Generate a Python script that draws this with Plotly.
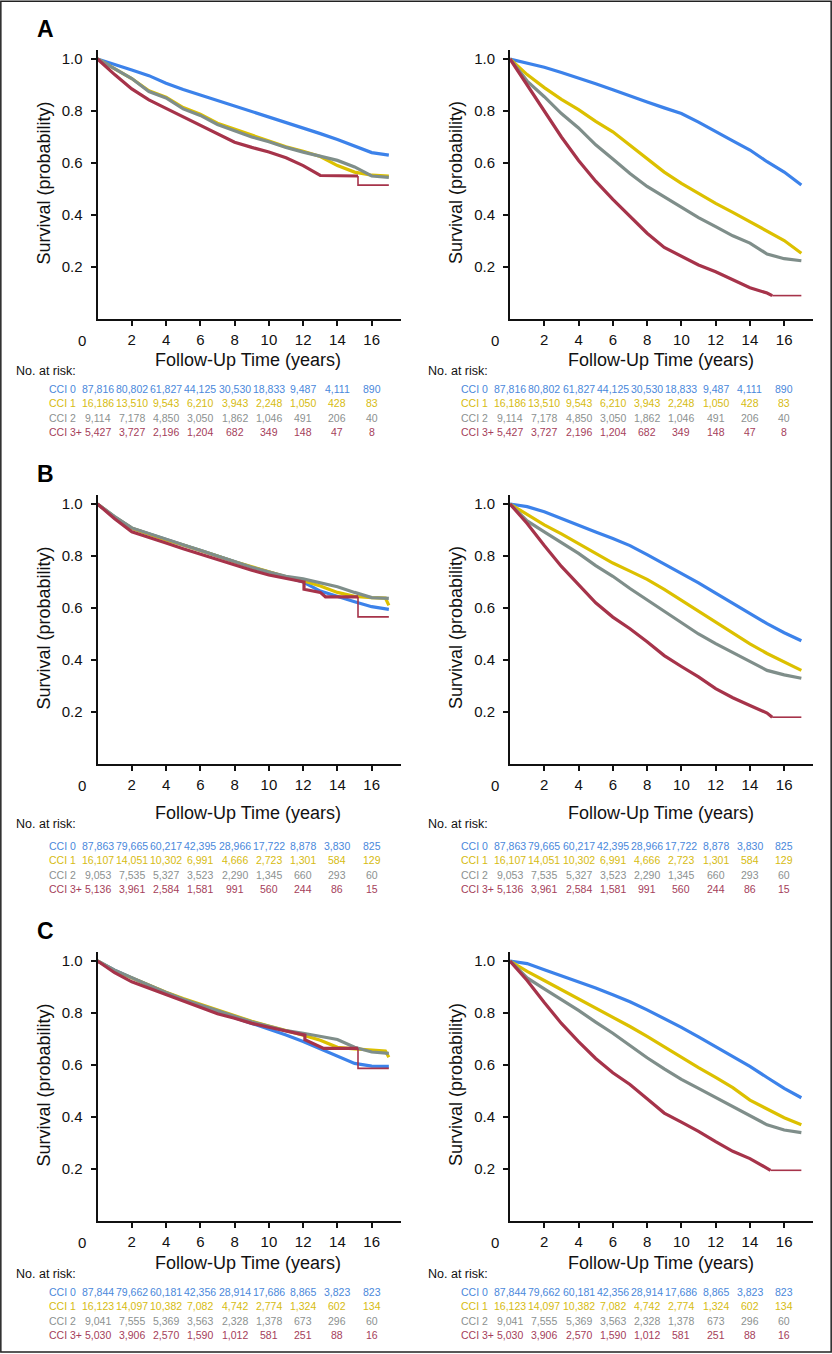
import plotly.graph_objects as go
from plotly.subplots import make_subplots

# Kaplan-Meier curves by Charlson comorbidity index (CCI), three cohorts (A, B, C)
# left column: cancer-specific, right column: overall survival

years = list(range(18))

# ---- panel A ----
a1_cci0 = [1.0, 0.98, 0.958, 0.936, 0.907, 0.883, 0.862, 0.842, 0.82, 0.80, 0.778, 0.757, 0.735, 0.713, 0.69, 0.665, 0.64, 0.63]
a1_cci1 = [1.0, 0.962, 0.925, 0.878, 0.853, 0.813, 0.788, 0.753, 0.73, 0.705, 0.685, 0.662, 0.645, 0.625, 0.59, 0.565, 0.553, 0.55]
a1_cci2 = [1.0, 0.962, 0.925, 0.875, 0.85, 0.808, 0.783, 0.748, 0.725, 0.70, 0.682, 0.66, 0.642, 0.627, 0.61, 0.585, 0.55, 0.545]
a1_cci3_t = [0, 1, 2, 3, 4, 5, 6, 7, 8, 9, 10, 11, 12, 13, 15.2, 15.2, 17]
a1_cci3 = [1.0, 0.94, 0.885, 0.843, 0.81, 0.778, 0.745, 0.712, 0.68, 0.66, 0.642, 0.62, 0.59, 0.552, 0.55, 0.515, 0.515]

a2_cci0 = [1.0, 0.985, 0.968, 0.948, 0.928, 0.905, 0.882, 0.86, 0.835, 0.812, 0.79, 0.757, 0.72, 0.685, 0.65, 0.605, 0.565, 0.515]
a2_cci1 = [1.0, 0.94, 0.89, 0.845, 0.805, 0.76, 0.72, 0.668, 0.615, 0.565, 0.522, 0.482, 0.445, 0.41, 0.374, 0.34, 0.302, 0.253]
a2_cci2 = [1.0, 0.915, 0.855, 0.79, 0.735, 0.67, 0.615, 0.56, 0.51, 0.47, 0.43, 0.39, 0.355, 0.32, 0.292, 0.25, 0.232, 0.224]
a2_cci3_t = [0, 1, 2, 3, 4, 5, 6, 7, 8, 9, 10, 11, 12, 13, 14, 15, 15.3, 17]
a2_cci3 = [1.0, 0.9, 0.805, 0.7, 0.61, 0.53, 0.46, 0.395, 0.33, 0.275, 0.24, 0.208, 0.182, 0.15, 0.12, 0.1, 0.09, 0.09]

# ---- panel B ----
b1_cci0 = [1.0, 0.95, 0.907, 0.885, 0.862, 0.842, 0.822, 0.80, 0.777, 0.757, 0.738, 0.72, 0.70, 0.665, 0.643, 0.624, 0.605, 0.595]
b1_cci1_t = [0, 1, 2, 3, 4, 5, 6, 7, 8, 9, 10, 11, 12, 13, 14, 15, 16, 16.8, 17]
b1_cci1 = [1.0, 0.95, 0.907, 0.883, 0.862, 0.842, 0.822, 0.80, 0.778, 0.758, 0.738, 0.72, 0.705, 0.685, 0.66, 0.645, 0.64, 0.638, 0.61]
b1_cci2 = [1.0, 0.952, 0.908, 0.886, 0.864, 0.843, 0.82, 0.80, 0.778, 0.757, 0.738, 0.722, 0.712, 0.697, 0.682, 0.66, 0.64, 0.637]
b1_cci3_t = [0, 1, 2, 3, 4, 5, 6, 7, 8, 9, 10, 11, 12, 12.05, 12.05, 13, 13.3, 15.2, 15.2, 17]
b1_cci3 = [1.0, 0.943, 0.893, 0.87, 0.85, 0.828, 0.807, 0.787, 0.765, 0.745, 0.727, 0.713, 0.70, 0.70, 0.672, 0.66, 0.643, 0.643, 0.566, 0.566]

b2_cci0 = [1.0, 0.99, 0.97, 0.943, 0.917, 0.892, 0.867, 0.84, 0.805, 0.77, 0.735, 0.697, 0.657, 0.617, 0.578, 0.54, 0.505, 0.474]
b2_cci1 = [1.0, 0.96, 0.92, 0.885, 0.847, 0.808, 0.773, 0.742, 0.71, 0.672, 0.63, 0.59, 0.548, 0.506, 0.462, 0.425, 0.392, 0.36]
b2_cci2 = [1.0, 0.935, 0.893, 0.852, 0.81, 0.763, 0.722, 0.675, 0.632, 0.587, 0.545, 0.5, 0.463, 0.428, 0.395, 0.36, 0.343, 0.33]
b2_cci3_t = [0, 1, 2, 3, 4, 5, 6, 7, 8, 9, 10, 11, 12, 13, 14, 15, 15.3, 17]
b2_cci3 = [1.0, 0.925, 0.84, 0.76, 0.69, 0.62, 0.565, 0.52, 0.47, 0.417, 0.375, 0.335, 0.29, 0.255, 0.225, 0.196, 0.18, 0.18]

# ---- panel C ----
c1_cci0 = [1.0, 0.965, 0.935, 0.905, 0.878, 0.852, 0.828, 0.805, 0.782, 0.76, 0.738, 0.715, 0.69, 0.662, 0.633, 0.606, 0.596, 0.595]
c1_cci1_t = [0, 1, 2, 3, 4, 5, 6, 7, 8, 9, 10, 11, 12, 13, 14, 15, 16, 16.8, 17]
c1_cci1 = [1.0, 0.963, 0.935, 0.906, 0.88, 0.856, 0.834, 0.813, 0.79, 0.768, 0.75, 0.733, 0.715, 0.695, 0.668, 0.662, 0.657, 0.654, 0.63]
c1_cci2 = [1.0, 0.965, 0.936, 0.906, 0.879, 0.853, 0.83, 0.807, 0.787, 0.766, 0.748, 0.732, 0.722, 0.71, 0.698, 0.668, 0.65, 0.645]
c1_cci3_t = [0, 1, 2, 3, 4, 5, 6, 7, 8, 9, 10, 11, 12, 12.1, 12.1, 13, 13.2, 15.2, 15.2, 17]
c1_cci3 = [1.0, 0.955, 0.92, 0.895, 0.87, 0.845, 0.82, 0.797, 0.78, 0.76, 0.745, 0.732, 0.717, 0.715, 0.697, 0.67, 0.664, 0.664, 0.587, 0.587]

c2_cci0 = [1.0, 0.99, 0.966, 0.943, 0.92, 0.896, 0.87, 0.843, 0.812, 0.78, 0.745, 0.708, 0.67, 0.632, 0.595, 0.552, 0.51, 0.474]
c2_cci1 = [1.0, 0.96, 0.925, 0.89, 0.855, 0.817, 0.783, 0.748, 0.71, 0.67, 0.627, 0.59, 0.552, 0.513, 0.465, 0.43, 0.397, 0.37]
c2_cci2 = [1.0, 0.935, 0.893, 0.852, 0.81, 0.765, 0.722, 0.675, 0.628, 0.585, 0.545, 0.51, 0.475, 0.442, 0.408, 0.37, 0.35, 0.34]
c2_cci3_t = [0, 1, 2, 3, 4, 5, 6, 7, 8, 9, 10, 11, 12, 13, 14, 15, 15.2, 17]
c2_cci3 = [1.0, 0.925, 0.84, 0.76, 0.69, 0.625, 0.57, 0.525, 0.47, 0.415, 0.38, 0.345, 0.305, 0.268, 0.24, 0.205, 0.195, 0.195]

# ---- numbers at risk (same table under both columns of a row) ----
risk_times = [0, 2, 4, 6, 8, 10, 12, 14, 16]
a_risk0 = [87816, 80802, 61827, 44125, 30530, 18833, 9487, 4111, 890]
a_risk1 = [16186, 13510, 9543, 6210, 3943, 2248, 1050, 428, 83]
a_risk2 = [9114, 7178, 4850, 3050, 1862, 1046, 491, 206, 40]
a_risk3 = [5427, 3727, 2196, 1204, 682, 349, 148, 47, 8]
b_risk0 = [87863, 79665, 60217, 42395, 28966, 17722, 8878, 3830, 825]
b_risk1 = [16107, 14051, 10302, 6991, 4666, 2723, 1301, 584, 129]
b_risk2 = [9053, 7535, 5327, 3523, 2290, 1345, 660, 293, 60]
b_risk3 = [5136, 3961, 2584, 1581, 991, 560, 244, 86, 15]
c_risk0 = [87844, 79662, 60181, 42356, 28914, 17686, 8865, 3823, 823]
c_risk1 = [16123, 14097, 10382, 7082, 4742, 2774, 1324, 602, 134]
c_risk2 = [9041, 7555, 5369, 3563, 2328, 1378, 673, 296, 60]
c_risk3 = [5030, 3906, 2570, 1590, 1012, 581, 251, 88, 16]

groups = ["CCI 0", "CCI 1", "CCI 2", "CCI 3+"]
line_colors = ["#3c82ea", "#dcc000", "#7f8e8a", "#a6334a"]
text_colors = ["#4a88db", "#d6bb10", "#8c9190", "#a5405a"]

W, H = 832, 1354
XMAX = 17.68
YMAX = 1.035
PXY = 260  # pixels per unit survival
col_px = [(97.5, 400.5), (510, 813)]
row_y0 = [319, 764, 1221]  # pixel row of survival = 0
letters = ["A", "B", "C"]
title_off = [41, 49, 42]
norisk_off = [52, 60, 53]
table_off = [70, 82, 71]
row_gap = 14.4

rows = [
    [
        [(years, a1_cci0), (years, a1_cci1), (years, a1_cci2), (a1_cci3_t, a1_cci3)],
        [(years, a2_cci0), (years, a2_cci1), (years, a2_cci2), (a2_cci3_t, a2_cci3)],
    ],
    [
        [(years, b1_cci0), (b1_cci1_t, b1_cci1), (years, b1_cci2), (b1_cci3_t, b1_cci3)],
        [(years, b2_cci0), (years, b2_cci1), (years, b2_cci2), (b2_cci3_t, b2_cci3)],
    ],
    [
        [(years, c1_cci0), (c1_cci1_t, c1_cci1), (years, c1_cci2), (c1_cci3_t, c1_cci3)],
        [(years, c2_cci0), (years, c2_cci1), (years, c2_cci2), (c2_cci3_t, c2_cci3)],
    ],
]
risks = [
    [a_risk0, a_risk1, a_risk2, a_risk3],
    [b_risk0, b_risk1, b_risk2, b_risk3],
    [c_risk0, c_risk1, c_risk2, c_risk3],
]


def fx(px):
    return px / W


def fy(py):
    return 1 - py / H


sans = "Liberation Sans, Arial, sans-serif"

fig = make_subplots(rows=3, cols=2)
annotations = []


def note(**kw):
    kw.setdefault("showarrow", False)
    kw.setdefault("yanchor", "middle")
    kw.setdefault("xanchor", "center")
    annotations.append(kw)


for r in range(3):
    y0 = row_y0[r]
    for c in range(2):
        n = r * 2 + c + 1
        for k, (t, v) in enumerate(rows[r][c]):
            if k == 3:
                # red curve: the censored tail after the last drop is drawn thin
                cut = len(t) - (3 if c == 0 else 2)
                fig.add_trace(go.Scatter(x=t[:cut + 1], y=v[:cut + 1], mode="lines", showlegend=False,
                                         line=dict(color=line_colors[k], width=3.2)),
                              row=r + 1, col=c + 1)
                fig.add_trace(go.Scatter(x=t[cut:], y=v[cut:], mode="lines", showlegend=False,
                                         line=dict(color=line_colors[k], width=1.6)),
                              row=r + 1, col=c + 1)
            else:
                fig.add_trace(go.Scatter(x=t, y=v, mode="lines", name=groups[k], showlegend=False,
                                         line=dict(color=line_colors[k], width=3.2)),
                              row=r + 1, col=c + 1)
        xl, xr = col_px[c]
        xname = "xaxis" if n == 1 else f"xaxis{n}"
        yname = "yaxis" if n == 1 else f"yaxis{n}"
        fig.update_layout({
            xname: dict(domain=[fx(xl), fx(xr)], range=[0, XMAX], tickvals=list(range(2, 17, 2)),
                        ticks="outside", ticklen=5, tickwidth=1.5, tickcolor="#111",
                        showline=True, linewidth=2, linecolor="#111", showgrid=False,
                        zeroline=False, tickfont=dict(family=sans, size=15, color="#111"),
                        ticklabelstandoff=1),
            yname: dict(domain=[fy(y0), fy(y0 - YMAX * PXY)], range=[0, YMAX],
                        tickvals=[0.2, 0.4, 0.6, 0.8, 1.0], tickformat=".1f",
                        ticks="outside", ticklen=5, tickwidth=1.5, tickcolor="#111",
                        showline=True, linewidth=2, linecolor="#111", showgrid=False,
                        zeroline=False, tickfont=dict(family=sans, size=15, color="#111"),
                        ticklabelstandoff=5),
        })
        xref = "x" if n == 1 else f"x{n}"
        # lone "0" label left of the axis
        note(x=fx(xl - 15.5), xref="paper", y=fy(y0 + 21), yref="paper", text="0",
             font=dict(family=sans, size=15, color="#111"))
        note(x=8.8, xref=xref, y=fy(y0 + title_off[r]), yref="paper",
             text="Follow-Up Time (years)", font=dict(family=sans, size=18, color="#111"))
        note(x=fx(xl - 54), xref="paper", y=fy(y0 - 136), yref="paper",
             text="Survival (probability)", textangle=-90,
             font=dict(family=sans, size=18, color="#111"))
        note(x=fx(xl - 84), xref="paper", xanchor="left", y=fy(y0 + norisk_off[r]), yref="paper",
             text="No. at risk:", font=dict(family=sans, size=12.5, color="#111"))
        for k in range(4):
            yy = fy(y0 + table_off[r] + k * row_gap)
            note(x=fx(xl - 51), xref="paper", xanchor="left", y=yy, yref="paper", text=groups[k],
                 font=dict(family=sans, size=10.5, color=text_colors[k]))
            for t, cnt in zip(risk_times, risks[r][k]):
                note(x=t, xref=xref, y=yy, yref="paper", text=f"{cnt:,}",
                     font=dict(family=sans, size=10.5, color=text_colors[k]))
    note(x=fx(35), xref="paper", xanchor="left", y=fy(row_y0[r] - 290), yref="paper",
         text=f"<b>{letters[r]}</b>", font=dict(family=sans, size=23, color="#000"))

fig.update_layout(
    width=W, height=H,
    margin=dict(l=0, r=0, t=0, b=0),
    paper_bgcolor="white", plot_bgcolor="white",
    annotations=annotations,
    shapes=[dict(type="rect", xref="paper", yref="paper", x0=0.001, x1=0.999, y0=0.0015, y1=0.999,
                 line=dict(color="#222", width=1.5))],
)

# the page body has a default 8px margin; drop it so the figure sits at the window corner
fig.write_html("out.html", config={"displayModeBar": False},
               post_script="document.body.style.margin='0';document.body.style.overflow='hidden';")
